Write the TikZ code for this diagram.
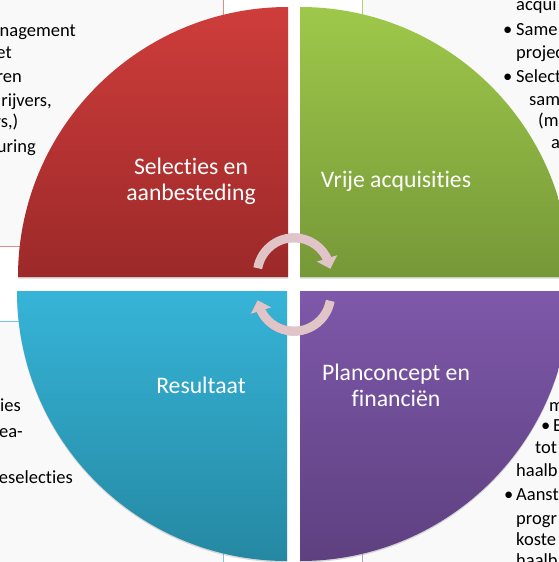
\documentclass[tikz,border=0pt]{standalone}
\usepackage{fontspec}
\setmainfont{Carlito}[Ligatures={NoCommon,NoContextual}]
\usetikzlibrary{arrows.meta,bending,shadows}
\definecolor{redTop}{RGB}{206,61,59}
\definecolor{redBot}{RGB}{156,41,41}
\definecolor{grnTop}{RGB}{158,200,74}
\definecolor{grnBot}{RGB}{118,152,56}
\definecolor{bluTop}{RGB}{54,180,216}
\definecolor{bluBot}{RGB}{37,136,162}
\definecolor{purTop}{RGB}{126,88,170}
\definecolor{purBot}{RGB}{94,64,128}
\definecolor{arrCol}{RGB}{224,196,199}
\definecolor{boxFill}{RGB}{249,249,249}
\tikzset{
 quad/.style={drop shadow={shadow xshift=0pt,shadow yshift=-1.5pt,opacity=0.3}},
 lbl/.style={text=white,font=\fontsize{23.7}{26}\selectfont,align=center},
 bg/.style={text=black,font=\fontsize{18.5}{22}\selectfont,inner sep=0pt},
 bgbox/.style={fill=boxFill,line width=0.8pt},
 cyc/.style={draw=arrCol,line width=9pt,-{Triangle[width=21pt,length=11pt,flex]}},
 cycshadow/.style={draw=black,opacity=0.2,line width=9pt,-{Triangle[width=21pt,length=11pt,flex]}},
}
\begin{document}
\begin{tikzpicture}[x=1pt,y=-1pt]
\useasboundingbox (0,0) rectangle (559,562);
\clip (0,0) rectangle (559,562);
\fill[white] (0,0) rectangle (559,562);
% background text boxes
\draw[bgbox,draw=redTop!60] (-10,-10) rectangle (223,246);
\draw[bgbox,draw=grnTop!80] (362,-10) rectangle (570,246);
\draw[bgbox,draw=bluTop!70] (-10,321) rectangle (223,575);
\draw[bgbox,draw=purTop!60] (362,321) rectangle (570,575);
% left top text
\node[bg,anchor=base east] (lt1) at (76,36.4) {nagement};
\node[bg,anchor=base east] (lt2) at (12,58.5) {et};
\node[bg,anchor=base east] (lt3) at (22,82.7) {ren};
\node[bg,anchor=base east] (lt4) at (52,106) {rijvers,};
\node[bg,anchor=base east] (lt5) at (18.5,127) {rs,)};
\node[bg,anchor=base east] (lt6) at (36,152) {uring};
% left bottom text
\node[bg,anchor=base east] (lb1) at (21,411) {ies};
\node[bg,anchor=base east] (lb2) at (23,437) {ea-};
\node[bg,anchor=base east] (lb3) at (73,483) {eselecties};
% right top text
\node[bg,anchor=base west] (rt1) at (516,10) {acqui};
\node[bg,anchor=base west] (rtb1) at (503,35) {•};
\node[bg,anchor=base west] (rt2) at (516,35) {Same};
\node[bg,anchor=base west] (rt3) at (516,58) {projec};
\node[bg,anchor=base west] (rtb2) at (503,82) {•};
\node[bg,anchor=base west] (rt4) at (516,82) {Select};
\node[bg,anchor=base west] (rt5) at (529,105) {sam};
\node[bg,anchor=base west] (rt6) at (538,126) {(m};
\node[bg,anchor=base west] (rt7) at (551,148) {a};
% right bottom text
\node[bg,anchor=base west] (rb1) at (549,411) {m};
\node[bg,anchor=base west] (rbb1) at (541,431) {•};
\node[bg,anchor=base west] (rb2) at (553,431) {E};
\node[bg,anchor=base west] (rb3) at (535,453.5) {tot};
\node[bg,anchor=base west] (rb4) at (516,476) {haalb};
\node[bg,anchor=base west] (rbb2) at (504,500.5) {•};
\node[bg,anchor=base west] (rb5) at (516,500.5) {Aanst};
\node[bg,anchor=base west] (rb6) at (516,524) {progr};
\node[bg,anchor=base west] (rb7) at (516,545) {koste};
\node[bg,anchor=base west] (rb8) at (516,566) {haalb};
% quadrants
\path[quad,top color=redTop,bottom color=redBot] (288,277) -- (18,277) arc[start angle=180,end angle=270,radius=270] -- cycle;
\path[quad,top color=grnTop,bottom color=grnBot] (300,277) -- (300,7) arc[start angle=270,end angle=360,radius=270] -- cycle;
\path[quad,top color=purTop,bottom color=purBot] (300,291) -- (570,291) arc[start angle=0,end angle=90,radius=270] -- cycle;
\path[quad,top color=bluTop,bottom color=bluBot] (287,291) -- (287,561) arc[start angle=90,end angle=180,radius=270] -- cycle;
% labels
\node[lbl] (sel) at (191,181) {Selecties en\\aanbesteding};
\node[lbl] (vrij) at (396,181) {Vrije acquisities};
\node[lbl] (res) at (201,385) {Resultaat};
\node[lbl] (plan) at (396,385) {Planconcept en\\financiën};
% cycle arrows
\coordinate (ct) at (294,274.6);
\coordinate (cb) at (294,294.4);
\begin{scope}[shift={(0.8,1.6)}]
\draw[cycshadow] ([shift={(-170:36.8)}]ct) arc[start angle=-170,end angle=-9,radius=36.8];
\draw[cycshadow] ([shift={(10:36.8)}]cb) arc[start angle=10,end angle=171,radius=36.8];
\end{scope}
\draw[cyc] ([shift={(-170:36.8)}]ct) arc[start angle=-170,end angle=-9,radius=36.8];
\draw[cyc] ([shift={(10:36.8)}]cb) arc[start angle=10,end angle=171,radius=36.8];
\end{tikzpicture}
\end{document}
